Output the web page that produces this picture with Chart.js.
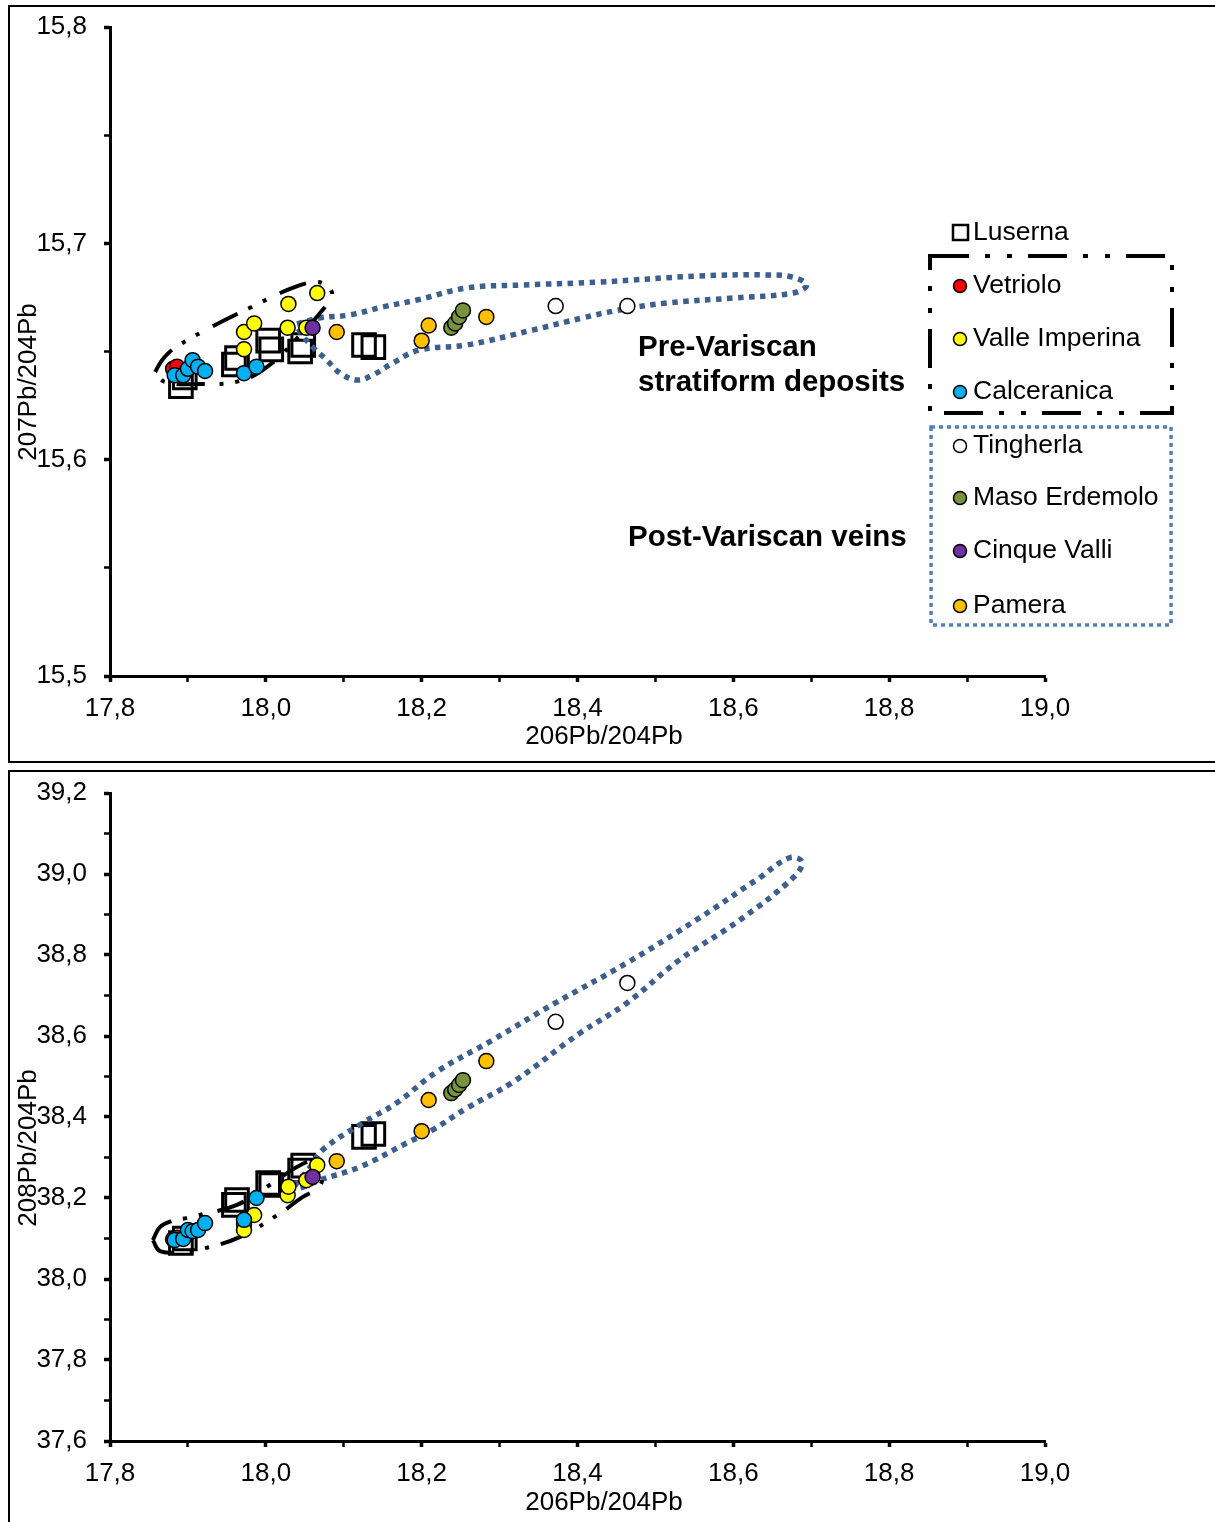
<!DOCTYPE html>
<html>
<head>
<meta charset="utf-8">
<script src="https://cdn.jsdelivr.net/npm/chart.js@4.4.1/dist/chart.umd.min.js"></script>
<style>
  body { margin: 0; background: #fff; width: 1215px; height: 1522px; overflow: hidden; position: relative; }
  .frame { position: absolute; border: 2px solid #000; box-sizing: border-box; }
  #frameTop { left: 8px; top: 5px; width: 1230px; height: 758px; }
  #frameBottom { left: 8px; top: 770px; width: 1230px; height: 770px; }
  canvas { position: absolute; left: 0; }
  #chart207 { top: 0; }
  #chart208 { top: 766px; }
</style>
</head>
<body>
<div class="frame" id="frameTop"></div>
<div class="frame" id="frameBottom"></div>
<canvas id="chart207" width="1215" height="766"></canvas>
<canvas id="chart208" width="1215" height="756"></canvas>
<script>
// axis ranges
const xRange = [17.8, 19.0];
const y207Range = [15.5, 15.8];
const y208Range = [37.6, 39.2];

// Luserna
const luserna206 = [17.891, 17.896, 17.959, 17.963, 18.003, 18.007, 18.044, 18.048, 18.126, 18.138];
const luserna207 = [15.634, 15.638, 15.644, 15.647, 15.655, 15.651, 15.650, 15.653, 15.653, 15.652];
const luserna208 = [38.089, 38.100, 38.183, 38.195, 38.237, 38.232, 38.268, 38.280, 38.351, 38.358];

// pre-Variscan stratiform deposits
const vetriolo206 = [17.881, 17.886];
const vetriolo207 = [15.642, 15.643];
const vetriolo208 = [38.098, 38.102];

const valle206 = [17.972, 17.972, 17.985, 18.028, 18.029, 18.052, 18.066];
const valle207 = [15.659, 15.651, 15.663, 15.661, 15.672, 15.661, 15.677];
const valle208 = [38.135, 38.121, 38.158, 38.207, 38.228, 38.244, 38.281];

const calce206 = [17.883, 17.894, 17.900, 17.906, 17.913, 17.922, 17.972, 17.988];
const calce207 = [15.639, 15.639, 15.642, 15.646, 15.643, 15.641, 15.640, 15.643];
const calce208 = [38.096, 38.099, 38.121, 38.118, 38.121, 38.138, 38.146, 38.200];

// post-Variscan veins
const tingherla206 = [18.372, 18.464];
const tingherla207 = [15.671, 15.671];
const tingherla208 = [38.635, 38.731];

const maso206 = [18.238, 18.243, 18.248, 18.253];
const maso207 = [15.661, 15.663, 15.666, 15.669];
const maso208 = [38.459, 38.468, 38.479, 38.491];

const cinque206 = [18.060];
const cinque207 = [15.661];
const cinque208 = [38.252];

const pamera206 = [18.091, 18.200, 18.209, 18.283];
const pamera207 = [15.659, 15.655, 15.662, 15.666];
const pamera208 = [38.291, 38.365, 38.442, 38.538];

// field outlines (206Pb/204Pb, 20xPb/204Pb)
const preField207 = [[17.858, 15.6405], [17.867, 15.6461], [17.883, 15.6516], [17.928, 15.6609], [17.979, 15.6701],
  [18.031, 15.6789], [18.063, 15.6821], [18.079, 15.6803], [18.085, 15.6761], [18.076, 15.6706], [18.044, 15.6576],
  [18.005, 15.6438], [17.967, 15.6364], [17.915, 15.6350], [17.871, 15.6359], [17.858, 15.6405]];
const postField207 = [[18.040, 15.6627], [18.069, 15.6655], [18.108, 15.6669], [18.150, 15.6706], [18.194, 15.6738],
  [18.258, 15.6794], [18.326, 15.6807], [18.428, 15.6821], [18.556, 15.6849], [18.642, 15.6854], [18.676, 15.6844],
  [18.694, 15.6807], [18.676, 15.6770], [18.599, 15.6747], [18.514, 15.6724], [18.454, 15.6692], [18.406, 15.6655],
  [18.342, 15.6599], [18.258, 15.6530], [18.197, 15.6507], [18.163, 15.6447], [18.137, 15.6391], [18.117, 15.6368],
  [18.095, 15.6401], [18.078, 15.6461], [18.060, 15.6521], [18.044, 15.6590], [18.040, 15.6627]];
const preField208 = [[17.855, 38.096], [17.864, 38.128], [17.879, 38.143], [17.899, 38.151], [17.919, 38.160],
  [17.963, 38.183], [18.005, 38.232], [18.044, 38.281], [18.063, 38.289], [18.072, 38.249], [18.067, 38.225],
  [18.047, 38.202], [18.015, 38.158], [17.967, 38.104], [17.928, 38.079], [17.890, 38.067], [17.864, 38.069],
  [17.855, 38.096]];
const postField208 = [[18.037, 38.230], [18.056, 38.274], [18.073, 38.319], [18.124, 38.385], [18.168, 38.435],
  [18.219, 38.511], [18.291, 38.590], [18.371, 38.681], [18.463, 38.780], [18.556, 38.891], [18.633, 38.990],
  [18.672, 39.040], [18.688, 39.030], [18.678, 38.993], [18.608, 38.886], [18.531, 38.788], [18.463, 38.681],
  [18.403, 38.607], [18.317, 38.486], [18.258, 38.422], [18.214, 38.368], [18.181, 38.336], [18.121, 38.277],
  [18.069, 38.244], [18.044, 38.225], [18.037, 38.230]];

const siteNames = ['Vetriolo', 'Valle Imperina', 'Calceranica', 'Tingherla', 'Maso Erdemolo', 'Cinque Valli', 'Pamera'];
const siteColors = ['#ff0000', '#ffff00', '#00b0f0', '#ffffff', '#77933c', '#7030a0', '#ffc000'];

const FONT = '"Liberation Sans", Arial, sans-serif';
const DASH_DOT = [28, 12, 4, 12, 4, 15];

function pts(xs, ys) {
  return xs.map((x, i) => ({ x: x, y: ys[i] }));
}
function pairs(arr) {
  return arr.map(p => ({ x: p[0], y: p[1] }));
}

function site(i, xs, ys, order) {
  return {
    label: siteNames[i],
    data: pts(xs, ys),
    backgroundColor: siteColors[i],
    borderColor: '#000',
    borderWidth: 1.5,
    pointRadius: 7.5,
    order: order
  };
}

function outline(data, color, width, dash) {
  return {
    data: pairs(data),
    showLine: true,
    fill: false,
    borderColor: color,
    borderWidth: width,
    borderDash: dash,
    borderCapStyle: 'butt',
    tension: 0.4,
    pointRadius: 0,
    order: 20
  };
}

// titles, field labels and legend drawn on top of the plot
const decorations = {
  id: 'decorations',
  afterDraw(chart, args, opts) {
    const ctx = chart.ctx;
    ctx.save();
    ctx.fillStyle = '#000';
    ctx.font = '26px ' + FONT;
    ctx.textAlign = 'center';
    ctx.textBaseline = 'middle';
    ctx.fillText(opts.xTitle, 604, 737);
    ctx.save();
    ctx.translate(29, 382);
    ctx.rotate(-Math.PI / 2);
    ctx.fillText(opts.yTitle, 0, 0);
    ctx.restore();

    if (opts.legend) {
      ctx.textAlign = 'left';
      ctx.font = 'bold 29.5px ' + FONT;
      ctx.fillText('Pre-Variscan', 638, 348);
      ctx.fillText('stratiform deposits', 638, 383);
      ctx.fillText('Post-Variscan veins', 628, 538);

      ctx.font = '26.5px ' + FONT;
      // Luserna entry
      ctx.strokeStyle = '#000';
      ctx.lineWidth = 2.5;
      ctx.strokeRect(953, 225, 15, 15);
      ctx.fillText('Luserna', 973, 233);

      // pre-Variscan box
      ctx.lineWidth = 4;
      ctx.setLineDash([39, 16, 5, 17, 5, 16]);
      ctx.strokeRect(930, 256, 242, 157);
      // post-Variscan box
      ctx.strokeStyle = '#4f81bd';
      ctx.lineWidth = 3.5;
      ctx.setLineDash([4, 4]);
      ctx.strokeRect(931, 427, 240, 198);
      ctx.setLineDash([]);

      const rows = [286, 339, 392, 446, 498, 551, 606];
      siteNames.forEach((name, i) => {
        ctx.beginPath();
        ctx.arc(960, rows[i], 6.5, 0, Math.PI * 2);
        ctx.fillStyle = siteColors[i];
        ctx.fill();
        ctx.strokeStyle = '#000';
        ctx.lineWidth = 1.5;
        ctx.stroke();
        ctx.fillStyle = '#000';
        ctx.fillText(name, 973, rows[i]);
      });
    }
    ctx.restore();
  }
};

function makeChart(id, yRange, yStep, sets, fields, xTitle, yTitle, legend) {
  const canvas = document.getElementById(id);
  const h = canvas.height;
  const bottom = id === 'chart207' ? 676 : 675;
  return new Chart(canvas, {
    type: 'scatter',
    data: {
      datasets: [
        {
          label: 'Luserna',
          data: pts(sets.lx, sets.ly),
          pointStyle: 'rect',
          pointRadius: 16,
          backgroundColor: 'rgba(0,0,0,0)',
          borderColor: '#000',
          borderWidth: 3,
          order: 30
        },
        outline(fields[0], '#000', 4, DASH_DOT),
        outline(fields[1], '#3d5f8e', 5.5, [5.5, 5.5]),
        site(0, vetriolo206, sets.v, 9),
        site(1, valle206, sets.vi, 8),
        site(2, calce206, sets.c, 7),
        site(3, tingherla206, sets.t, 6),
        site(4, maso206, sets.m, 5),
        site(5, cinque206, sets.cv, 3),
        site(6, pamera206, sets.p, 4)
      ]
    },
    options: {
      responsive: false,
      animation: false,
      devicePixelRatio: 1,
      layout: { padding: { left: 0, top: 27, right: 170, bottom: 0 } },
      plugins: {
        legend: { display: false },
        tooltip: { enabled: false },
        decorations: { xTitle: xTitle, yTitle: yTitle, legend: legend }
      },
      scales: {
        x: {
          type: 'linear',
          min: xRange[0],
          max: xRange[1],
          afterFit(scale) {
            scale.height = h - bottom;
            scale.paddingLeft = 0;
            scale.paddingRight = 0;
          },
          border: { display: true, color: '#000', width: 3 },
          grid: {
            drawOnChartArea: false,
            drawTicks: true,
            tickLength: 6,
            tickColor: '#000',
            tickWidth: c => (c.index % 2 === 0 ? 3.5 : 2.5)
          },
          ticks: {
            stepSize: 0.1,
            autoSkip: false,
            maxRotation: 0,
            padding: 11,
            color: '#000',
            font: { family: FONT, size: 26 },
            callback: (v, i) => (i % 2 === 0 ? v.toFixed(1).replace('.', ',') : '')
          }
        },
        y: {
          type: 'linear',
          min: yRange[0],
          max: yRange[1],
          afterFit(scale) {
            scale.width = 110;
            // keep the plot top fixed by the layout padding
            scale.paddingTop = 0;
            scale.paddingBottom = 0;
          },
          border: { display: true, color: '#000', width: 3 },
          grid: {
            drawOnChartArea: false,
            drawTicks: true,
            tickLength: 6,
            tickColor: '#000',
            tickWidth: c => (c.index % 2 === 0 ? 3.5 : 2.5)
          },
          ticks: {
            stepSize: yStep,
            autoSkip: false,
            padding: 17,
            color: '#000',
            font: { family: FONT, size: 26 },
            callback: (v, i) => (i % 2 === 0 ? v.toFixed(1).replace('.', ',') : '')
          }
        }
      }
    },
    plugins: [decorations]
  });
}

makeChart('chart207', y207Range, 0.05, {
  lx: luserna206, ly: luserna207, v: vetriolo207, vi: valle207, c: calce207,
  t: tingherla207, m: maso207, cv: cinque207, p: pamera207
}, [preField207, postField207], '206Pb/204Pb', '207Pb/204Pb', true);

makeChart('chart208', y208Range, 0.1, {
  lx: luserna206, ly: luserna208, v: vetriolo208, vi: valle208, c: calce208,
  t: tingherla208, m: maso208, cv: cinque208, p: pamera208
}, [preField208, postField208], '206Pb/204Pb', '208Pb/204Pb', false);
</script>
</body>
</html>
